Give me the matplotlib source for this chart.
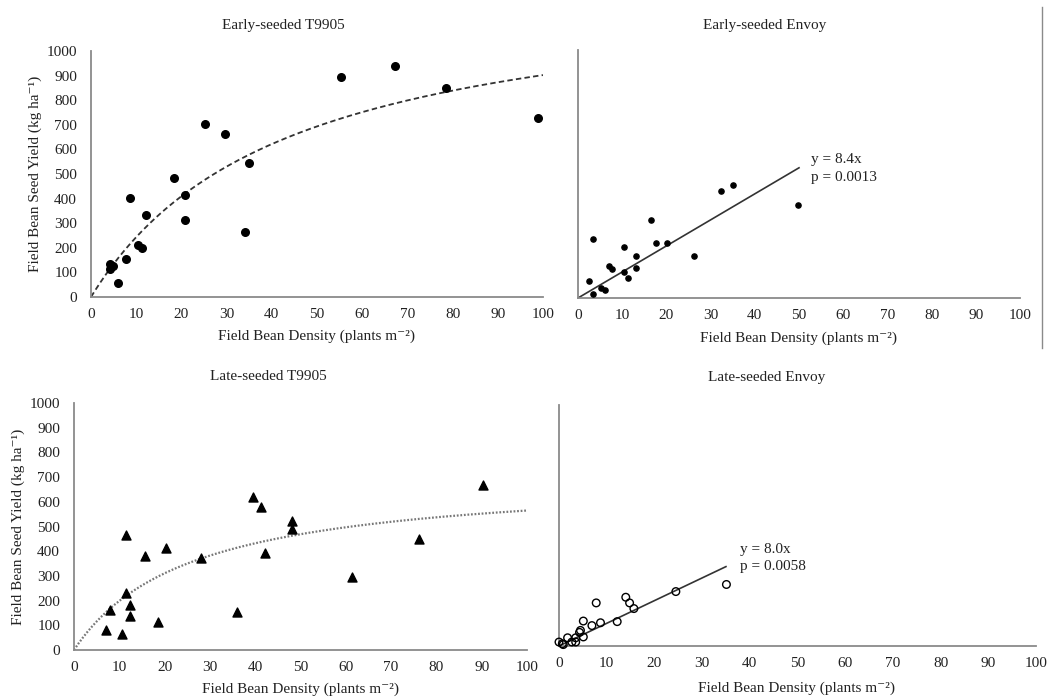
import numpy as np
import matplotlib.pyplot as plt
from matplotlib.lines import Line2D

plt.rcParams['font.family'] = ['Liberation Serif', 'DejaVu Serif']
plt.rcParams['font.size'] = 11
plt.rcParams['text.color'] = '#222222'

# Early-seeded T9905 (plants m-2, kg ha-1)
t9905_early_x = [4.1, 4.3, 4.9, 6.0, 7.8, 8.7, 10.4, 11.3, 12.2, 18.3, 20.9,
                 20.9, 25.2, 29.6, 34.1, 35.0, 55.2, 67.3, 78.6, 98.8]
t9905_early_y = [133, 115, 128, 58, 156, 404, 210, 200, 335, 484, 416,
                 312, 705, 663, 264, 545, 896, 939, 851, 726]
# rectangular hyperbola fit: y = I*x / (1 + I*x/A)
t9905_early_fit = (30.0, 1290.0)

# Early-seeded Envoy
envoy_early_x = [2.6, 3.5, 3.5, 5.2, 6.0, 7.0, 7.8, 10.5, 10.5, 11.4,
                 13.2, 13.2, 16.6, 17.6, 20.1, 26.2, 32.4, 35.0, 49.8]
envoy_early_y = [54, 190, 13, 31, 25, 103, 93, 165, 83, 63,
                 134, 97, 252, 176, 176, 134, 346, 364, 300]
envoy_early_slope = 8.4
envoy_early_xmax = 50

# Late-seeded T9905
t9905_late_x = [7.1, 7.9, 10.6, 11.4, 11.4, 12.3, 12.3, 15.7, 18.5, 20.2,
                28.0, 36.0, 39.5, 41.3, 42.1, 48.2, 48.2, 61.4, 76.2, 90.3]
t9905_late_y = [80, 161, 66, 464, 232, 181, 139, 379, 113, 412,
                374, 154, 621, 578, 391, 522, 490, 297, 448, 668]
t9905_late_fit = (27.6, 710.0)

# Late-seeded Envoy
envoy_late_x = [0.0, 0.7, 0.9, 1.8, 2.7, 3.5, 3.5, 4.3, 4.5, 5.1, 5.1,
                6.9, 7.8, 8.7, 12.2, 14.0, 14.8, 15.7, 24.5, 35.1]
envoy_late_y = [14, 8, 5, 29, 14, 14, 29, 48, 55, 32, 88,
                72, 152, 82, 86, 172, 152, 132, 192, 217]
envoy_late_slope = 8.0
envoy_late_xmax = 35

x_ticks = list(range(0, 101, 10))
y_ticks = list(range(0, 1001, 100))
xlab = 'Field Bean Density (plants m\u207b\u00b2)'
ylab = 'Field Bean Seed Yield (kg ha\u207b\u00b9)'

W, H = 1050, 698
fig = plt.figure(figsize=(W / 100, H / 100), dpi=100)


def rect(l, t, r, b):
    return [l / W, 1 - b / H, (r - l) / W, (b - t) / H]


def ftext(x, y, s, **kw):
    fig.text(x / W, 1 - y / H, s, ha='center', va='center', **kw)


def style(ax, ymax, show_y):
    for s in ['top', 'right']:
        ax.spines[s].set_visible(False)
    for s in ['left', 'bottom']:
        ax.spines[s].set_color('#8a8a8a')
        ax.spines[s].set_linewidth(1.3)
    ax.set_xlim(0, 100)
    ax.set_ylim(0, ymax)
    ax.set_xticks(x_ticks)
    if show_y:
        ax.set_yticks(y_ticks)
    else:
        ax.set_yticks([])
    ax.tick_params(axis='x', length=0, pad=8, labelcolor='#222222')
    ax.tick_params(axis='y', length=0, pad=10, labelcolor='#222222')
    for sp in ax.spines.values():
        sp.set_clip_on(False)


def hyper(x, p):
    i, a = p
    return i * x / (1 + i * x / a)


xs = np.linspace(0, 100, 300)

# --- top left
ax1 = fig.add_axes(rect(91, 51, 543, 297))
style(ax1, 1000, True)
ax1.plot(xs, hyper(xs, t9905_early_fit), color='#333333', lw=1.3,
         linestyle=(0, (3, 1.8)))
ax1.scatter(t9905_early_x, t9905_early_y, s=30, color='black', zorder=3,
            clip_on=False)
ftext(283, 25, 'Early-seeded T9905')
ftext(317, 336, xlab)
ftext(35, 174, ylab, rotation=90)

# --- top right
ax2 = fig.add_axes(rect(578, 50, 1020, 298))
style(ax2, 800, False)
lx = np.array([0, envoy_early_xmax])
ax2.plot(lx, envoy_early_slope * lx, color='#333333', lw=1.2)
ax2.scatter(envoy_early_x, envoy_early_y, s=14, color='black', zorder=3,
            clip_on=False)
ax2.text(52.7, 448, 'y = 8.4x', va='center', ha='left')
ax2.text(52.7, 390, 'p = 0.0013', va='center', ha='left')
ftext(765, 25, 'Early-seeded Envoy')
ftext(798, 338, xlab)

# --- bottom left
ax3 = fig.add_axes(rect(74, 403, 527, 650))
style(ax3, 1000, True)
ax3.plot(xs, hyper(xs, t9905_late_fit), color='#777777', lw=1.6,
         linestyle=(0, (0.8, 0.8)))
ax3.scatter(t9905_late_x, t9905_late_y, s=42, marker='^', color='black',
            zorder=3, clip_on=False)
ftext(268, 377, 'Late-seeded T9905')
ftext(300, 689, xlab)
ftext(18, 527, ylab, rotation=90)

# --- bottom right
ax4 = fig.add_axes(rect(559, 405, 1036, 646))
style(ax4, 850, False)
lx = np.array([0, envoy_late_xmax])
ax4.plot(lx, envoy_late_slope * lx, color='#333333', lw=1.2)
ax4.scatter(envoy_late_x, envoy_late_y, s=30, facecolors='none',
            edgecolors='black', linewidths=1.0, zorder=3, clip_on=False)
ax4.text(37.9, 339, 'y = 8.0x', va='center', ha='left')
ax4.text(37.9, 279, 'p = 0.0058', va='center', ha='left')
ftext(767, 377, 'Late-seeded Envoy')
ftext(797, 688, xlab)

# border line at right of top row
fig.add_artist(Line2D([1042 / W, 1042 / W], [1 - 7 / H, 1 - 348 / H],
                      color='#8a8a8a', lw=1.0))

fig.savefig('out.png', dpi=100)
